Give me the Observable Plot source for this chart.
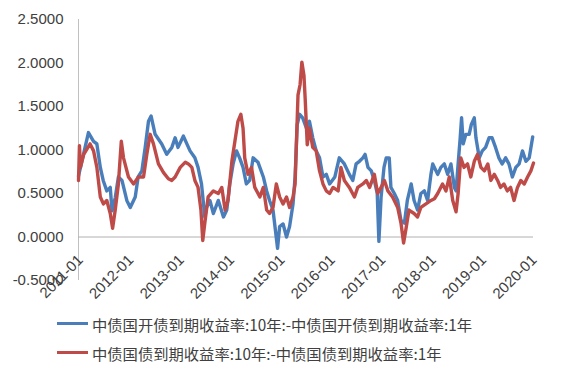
<!DOCTYPE html>
<html><head><meta charset="utf-8">
<script src="https://cdn.jsdelivr.net/npm/d3@7"></script>
<script src="https://cdn.jsdelivr.net/npm/@observablehq/plot@0.6"></script>
<style>
body{margin:0;background:#fff;width:567px;height:379px;overflow:hidden;font-family:"Liberation Sans",Arial,sans-serif;}
#legend{margin-top:9px;padding-left:57px;font-family:"Noto Sans CJK SC",sans-serif;font-size:15.3px;color:#404040;}
.row{display:flex;align-items:center;height:29px;white-space:nowrap}
.sw{width:31px;height:3px;margin-right:4px;flex:none}
</style></head><body>
<div id="chart"></div>
<div id="legend"></div>
<script>
const seriesNames = ["中债国开债到期收益率:10年:-中债国开债到期收益率:1年", "中债国债到期收益率:10年:-中债国债到期收益率:1年"];
const seriesColors = ["#4a7ebb", "#be4b48"];
const xTickLabels = ["2011-01","2012-01","2013-01","2014-01","2015-01","2016-01","2017-01","2018-01","2019-01","2020-01"];
const yTicks = [-0.5, 0, 0.5, 1.0, 1.5, 2.0, 2.5];
const xDomain = ["2011-01-01", "2020-01-10"];

const kaiDates = ["2011-01-01","2011-01-27","2011-03-14","2011-04-20","2011-05-14","2011-06-08","2011-06-29","2011-07-25","2011-08-19","2011-09-01","2011-09-24","2011-10-17","2011-11-12","2011-12-17","2012-01-11","2012-02-16","2012-03-08","2012-04-04","2012-04-28","2012-05-22","2012-06-10","2012-07-09","2012-08-26","2012-10-01","2012-11-07","2012-12-01","2012-12-22","2013-01-30","2013-02-24","2013-03-19","2013-04-23","2013-05-16","2013-06-10","2013-07-04","2013-07-16","2013-08-10","2013-09-04","2013-10-10","2013-11-16","2013-12-10","2014-01-01","2014-01-25","2014-02-19","2014-03-13","2014-04-07","2014-05-01","2014-05-25","2014-06-19","2014-07-24","2014-09-01","2014-09-25","2014-10-16","2014-11-10","2014-12-13","2014-12-28","2015-01-22","2015-02-16","2015-03-10","2015-04-04","2015-04-19","2015-05-04","2015-05-22","2015-06-13","2015-07-10","2015-08-01","2015-08-25","2015-09-19","2015-10-13","2015-11-07","2015-12-01","2015-12-25","2016-02-01","2016-03-04","2016-04-10","2016-05-16","2016-06-10","2016-07-04","2016-07-28","2016-08-22","2016-09-07","2016-09-28","2016-10-22","2016-11-13","2016-12-04","2016-12-16","2017-01-01","2017-01-22","2017-02-07","2017-03-01","2017-03-13","2017-04-07","2017-05-01","2017-05-25","2017-06-19","2017-07-10","2017-08-07","2017-08-28","2017-09-22","2017-10-16","2017-11-10","2017-12-04","2017-12-28","2018-01-10","2018-02-15","2018-03-10","2018-04-04","2018-04-28","2018-05-22","2018-06-16","2018-06-28","2018-07-13","2018-07-28","2018-08-07","2018-08-19","2018-09-07","2018-10-01","2018-10-16","2018-11-07","2018-11-19","2018-12-13","2019-01-04","2019-01-28","2019-02-22","2019-03-16","2019-04-10","2019-05-04","2019-05-28","2019-06-22","2019-07-16","2019-08-10","2019-09-04","2019-09-28","2019-10-22","2019-11-16","2019-12-10","2020-01-04"];
const kaiValues = [0.70,0.88,1.20,1.10,1.07,0.80,0.65,0.53,0.57,0.30,0.45,0.69,0.65,0.42,0.34,0.46,0.69,0.76,1.03,1.33,1.39,1.18,1.07,0.95,1.03,1.14,1.03,1.16,1.07,0.99,0.91,0.80,0.61,0.23,0.34,0.42,0.27,0.42,0.23,0.31,0.61,0.84,0.99,0.91,0.80,0.61,0.65,0.91,0.86,0.69,0.53,0.42,0.31,-0.13,0.12,0.15,0.00,0.12,0.38,0.69,1.29,1.41,1.37,1.25,1.33,1.14,0.99,0.91,0.69,0.72,0.61,0.69,0.91,0.84,0.72,0.65,0.84,0.87,0.91,0.95,0.80,0.76,0.65,0.50,-0.05,0.46,0.80,0.91,0.91,0.57,0.50,0.42,0.19,0.16,0.42,0.61,0.42,0.31,0.50,0.53,0.42,0.72,0.84,0.72,0.80,0.84,0.72,0.84,0.57,0.53,0.84,1.14,1.37,1.07,1.18,1.18,1.29,1.37,1.14,0.91,0.99,1.03,1.14,1.14,1.03,0.91,0.84,0.91,0.84,0.69,0.80,0.84,0.99,0.87,0.91,1.15];

const guoDates = ["2011-01-01","2011-01-08","2011-01-15","2011-02-08","2011-03-26","2011-04-20","2011-05-14","2011-06-08","2011-07-01","2011-07-25","2011-08-19","2011-09-05","2011-09-24","2011-10-17","2011-11-07","2011-11-23","2011-12-29","2012-02-04","2012-03-10","2012-04-16","2012-05-10","2012-06-03","2012-06-27","2012-08-02","2012-09-08","2012-10-13","2012-11-07","2012-12-01","2013-01-07","2013-02-13","2013-03-07","2013-04-01","2013-04-23","2013-05-16","2013-06-06","2013-06-19","2013-07-04","2013-07-28","2013-09-04","2013-10-10","2013-11-04","2013-11-28","2013-12-19","2014-01-16","2014-02-07","2014-03-01","2014-03-22","2014-04-07","2014-04-19","2014-05-13","2014-06-07","2014-07-01","2014-08-07","2014-09-01","2014-09-25","2014-10-16","2014-11-10","2014-12-04","2014-12-28","2015-01-22","2015-02-16","2015-03-10","2015-04-04","2015-04-19","2015-05-10","2015-05-25","2015-06-07","2015-06-22","2015-07-01","2015-07-16","2015-08-01","2015-08-25","2015-09-19","2015-10-13","2015-11-07","2015-12-01","2015-12-25","2016-01-19","2016-02-25","2016-03-16","2016-04-10","2016-05-16","2016-06-22","2016-07-16","2016-08-22","2016-09-16","2016-10-10","2016-11-13","2016-12-07","2017-01-01","2017-01-25","2017-02-19","2017-03-25","2017-05-01","2017-05-25","2017-06-13","2017-07-01","2017-07-22","2017-08-28","2017-09-22","2017-10-16","2017-11-22","2017-12-28","2018-01-22","2018-02-15","2018-03-22","2018-04-16","2018-05-10","2018-06-04","2018-06-28","2018-07-13","2018-08-01","2018-08-25","2018-09-19","2018-10-13","2018-11-07","2018-12-01","2018-12-25","2019-01-19","2019-02-13","2019-03-07","2019-04-01","2019-04-25","2019-05-16","2019-06-10","2019-07-04","2019-07-28","2019-08-22","2019-09-16","2019-10-10","2019-11-04","2019-11-28","2019-12-22","2020-01-10"];
const guoValues = [0.65,1.05,0.80,0.95,1.07,0.99,0.80,0.46,0.38,0.42,0.27,0.10,0.31,0.61,1.10,0.91,0.69,0.61,0.69,0.69,0.95,1.18,1.07,0.84,0.74,0.67,0.65,0.69,0.80,0.86,0.84,0.80,0.65,0.57,0.31,-0.04,0.16,0.46,0.53,0.50,0.57,0.31,0.42,0.87,1.10,1.33,1.41,1.25,0.91,0.72,0.80,0.57,0.46,0.57,0.31,0.27,0.34,0.61,0.46,0.38,0.46,0.34,0.46,0.61,1.63,1.75,2.01,1.86,1.59,1.06,1.25,1.03,0.99,0.76,0.61,0.53,0.50,0.57,0.53,0.80,0.65,0.57,0.46,0.57,0.61,0.65,0.57,0.72,0.50,0.57,0.65,0.53,0.46,0.34,0.16,-0.07,0.10,0.31,0.27,0.23,0.34,0.38,0.42,0.44,0.50,0.61,0.53,0.69,0.42,0.29,0.50,0.91,0.80,0.84,0.69,0.87,0.95,0.80,0.76,0.84,0.65,0.72,0.65,0.57,0.61,0.53,0.57,0.42,0.57,0.65,0.61,0.69,0.76,0.85];

const parse = d3.utcParse("%Y-%m-%d");
const parseMonth = d3.utcParse("%Y-%m");
const rows = [];
kaiDates.forEach((d, i) => rows.push({series: seriesNames[0], date: parse(d), value: kaiValues[i]}));
guoDates.forEach((d, i) => rows.push({series: seriesNames[1], date: parse(d), value: guoValues[i]}));
const xTicks = xTickLabels.map(parseMonth);

const chart = Plot.plot({
  width: 567, height: 300,
  marginLeft: 78, marginRight: 34, marginTop: 19, marginBottom: 20,
  style: {fontFamily: "Liberation Sans, Arial, sans-serif", fontSize: "15px", color: "#404040", background: "#fff", overflow: "visible"},
  x: {type: "utc", domain: xDomain.map(parse)},
  y: {domain: [yTicks[0], yTicks[yTicks.length - 1]]},
  color: {domain: seriesNames, range: seriesColors},
  marks: [
    Plot.ruleX([parse(xDomain[0])], {stroke: "#c0c0c0", strokeWidth: 1}),
    Plot.ruleY([0], {stroke: "#b0b0b0", strokeWidth: 1}),
    Plot.axisY({ticks: yTicks, tickSize: 0, tickPadding: 15, tickFormat: d => d.toFixed(4), label: null, fill: "#404040"}),
    Plot.line(rows, {x: "date", y: "value", z: "series", stroke: "series", strokeWidth: 3.4, strokeLinejoin: "round"}),
    Plot.axisX({ticks: xTicks, tickSize: 0, tickPadding: 0, tickRotate: -45, tickFormat: d3.utcFormat("%Y-%m"), dy: -23, dx: 2, label: null, fill: "#404040"})
  ]
});
document.getElementById("chart").appendChild(chart);

const legend = document.getElementById("legend");
seriesNames.forEach((name, i) => {
  const row = document.createElement("div");
  row.className = "row";
  const sw = document.createElement("span");
  sw.className = "sw";
  sw.style.background = seriesColors[i];
  const t = document.createElement("span");
  t.textContent = name;
  row.appendChild(sw); row.appendChild(t);
  legend.appendChild(row);
});
</script></body></html>
